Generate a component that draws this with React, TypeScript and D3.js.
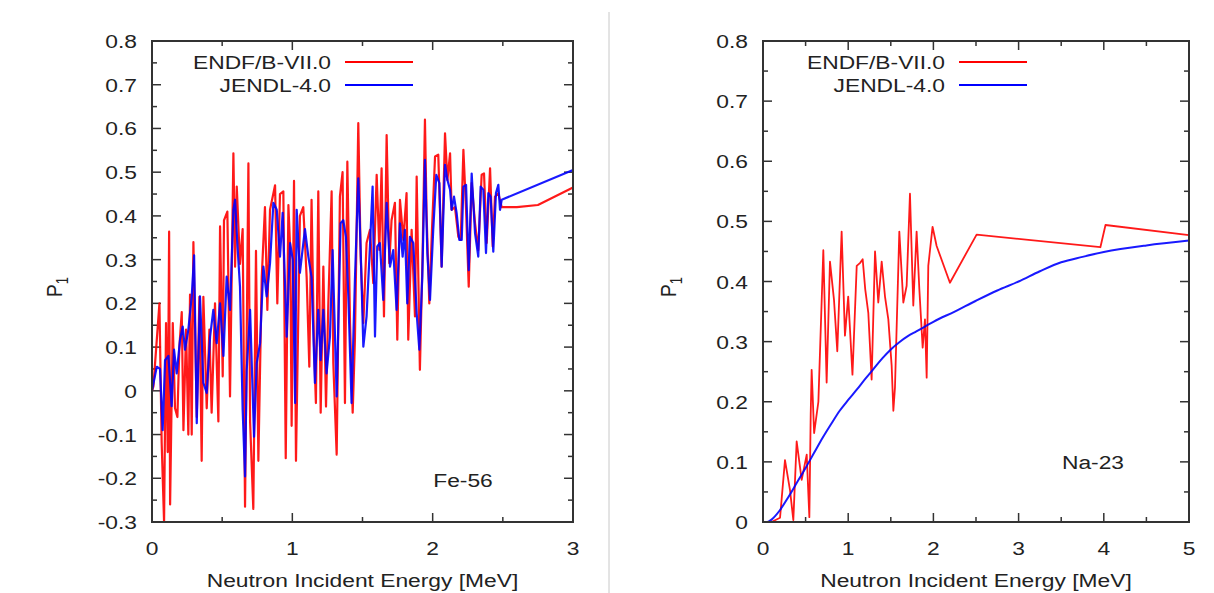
import React, { useEffect, useRef } from 'react';
import * as d3 from 'd3';

type Pt = [number, number];

// Fe-56, P1 vs neutron energy [MeV]
const fe56Endf: Pt[] = [
  [0, 0], [0.01, 0.01], [0.053, 0.2], [0.069, -0.12], [0.086, -0.3], [0.1, 0.155], [0.112, -0.14],
  [0.122, 0.364], [0.129, -0.26], [0.148, 0.155], [0.164, -0.04], [0.181, -0.06], [0.195, 0.1],
  [0.212, 0.18], [0.224, -0.09], [0.243, 0.14], [0.259, -0.1], [0.271, 0.22], [0.283, -0.1],
  [0.295, 0.34], [0.319, -0.06], [0.338, 0.215], [0.354, -0.16], [0.366, 0.215], [0.39, -0.04],
  [0.409, 0.14], [0.425, -0.05], [0.449, 0.2], [0.473, -0.07], [0.485, 0.376], [0.504, 0.033],
  [0.513, 0.39], [0.537, 0.41], [0.556, -0.013], [0.58, 0.543], [0.592, 0.284], [0.604, 0.467],
  [0.627, 0.29], [0.646, 0.37], [0.663, -0.265], [0.687, 0.52], [0.699, -0.07], [0.722, -0.27],
  [0.741, 0.32], [0.758, -0.16], [0.782, 0.26], [0.805, 0.42], [0.822, 0.185], [0.841, 0.414],
  [0.877, 0.47], [0.893, 0.2], [0.912, 0.45], [0.936, 0.456], [0.953, -0.154], [0.972, 0.425],
  [0.985, 0.32], [0.995, -0.08], [1.012, 0.48], [1.026, -0.16], [1.054, 0.4], [1.078, 0.42],
  [1.102, 0.26], [1.121, 0.055], [1.137, 0.437], [1.154, 0.109], [1.168, -0.028], [1.185, 0.456],
  [1.202, -0.05], [1.221, 0.284], [1.24, -0.036], [1.256, 0.193], [1.28, 0.456], [1.292, 0.063],
  [1.316, -0.146], [1.339, 0.444], [1.358, 0.5], [1.375, -0.028], [1.392, 0.524], [1.411, 0.155],
  [1.43, -0.05], [1.446, 0.117], [1.47, 0.612], [1.487, 0.307], [1.506, 0.155], [1.529, 0.338],
  [1.553, 0.368], [1.577, 0.246], [1.601, 0.494], [1.62, 0.322], [1.636, 0.509], [1.653, 0.17],
  [1.672, 0.585], [1.691, 0.292], [1.707, 0.39], [1.731, 0.43], [1.748, 0.117], [1.767, 0.437],
  [1.791, 0.345], [1.814, 0.452], [1.826, 0.117], [1.85, 0.368], [1.874, 0.17], [1.886, 0.49],
  [1.909, 0.048], [1.928, 0.307], [1.945, 0.62], [1.957, 0.4], [1.976, 0.2], [1.995, 0.368],
  [2.017, 0.536], [2.04, 0.54], [2.064, 0.284], [2.088, 0.589], [2.105, 0.482], [2.124, 0.543],
  [2.135, 0.414], [2.159, 0.42], [2.183, 0.352], [2.2, 0.345], [2.219, 0.551], [2.238, 0.414],
  [2.257, 0.238], [2.278, 0.475], [2.302, 0.383], [2.325, 0.322], [2.349, 0.494], [2.366, 0.497],
  [2.385, 0.338], [2.409, 0.509], [2.428, 0.33], [2.444, 0.444], [2.468, 0.452], [2.492, 0.42],
  [2.6, 0.42], [2.75, 0.425], [3.0, 0.465],
];

const fe56Jendl: Pt[] = [
  [0, 0], [0.034, 0.055], [0.057, 0.05], [0.076, -0.09], [0.093, 0.07], [0.117, 0.08],
  [0.14, -0.035], [0.157, 0.094], [0.176, 0.04], [0.2, 0.117], [0.219, 0.147], [0.235, 0.094],
  [0.259, 0.14], [0.283, 0.216], [0.3, 0.31], [0.319, -0.074], [0.342, 0.216], [0.366, 0.018],
  [0.39, -0.005], [0.414, 0.124], [0.437, 0.185], [0.461, 0.109], [0.485, 0.2], [0.509, 0.08],
  [0.532, 0.261], [0.556, 0.185], [0.58, 0.414], [0.592, 0.437], [0.608, 0.338], [0.627, 0.238],
  [0.646, -0.043], [0.663, -0.196], [0.675, 0.048], [0.699, 0.185], [0.727, -0.105], [0.746, 0.063],
  [0.77, 0.109], [0.794, 0.284], [0.817, 0.216], [0.841, 0.292], [0.865, 0.43], [0.889, 0.414],
  [0.912, 0.307], [0.931, 0.407], [0.96, 0.124], [0.984, 0.338], [1.003, 0.3], [1.02, -0.028],
  [1.031, 0.414], [1.054, 0.27], [1.09, 0.37], [1.114, 0.307], [1.137, 0.26], [1.161, 0.018],
  [1.185, 0.185], [1.202, 0.07], [1.221, 0.185], [1.244, 0.04], [1.268, 0.124], [1.287, 0.322],
  [1.316, -0.013], [1.344, 0.383], [1.363, 0.39], [1.382, 0.352], [1.399, 0.216], [1.422, -0.028],
  [1.446, 0.254], [1.47, 0.486], [1.487, 0.322], [1.506, 0.101], [1.529, 0.17], [1.553, 0.33],
  [1.572, 0.467], [1.589, 0.124], [1.605, 0.33], [1.624, 0.338], [1.648, 0.208], [1.672, 0.43],
  [1.696, 0.284], [1.719, 0.322], [1.743, 0.185], [1.767, 0.383], [1.786, 0.307], [1.802, 0.368],
  [1.819, 0.2], [1.838, 0.352], [1.862, 0.338], [1.886, 0.177], [1.905, 0.094], [1.926, 0.26],
  [1.945, 0.528], [1.962, 0.315], [1.981, 0.208], [2.004, 0.368], [2.026, 0.494], [2.048, 0.475],
  [2.064, 0.284], [2.088, 0.517], [2.105, 0.482], [2.124, 0.46], [2.135, 0.414], [2.152, 0.444],
  [2.171, 0.406], [2.19, 0.345], [2.207, 0.345], [2.219, 0.467], [2.238, 0.471], [2.257, 0.276],
  [2.278, 0.497], [2.302, 0.36], [2.325, 0.307], [2.342, 0.467], [2.361, 0.46], [2.38, 0.315],
  [2.397, 0.452], [2.413, 0.444], [2.432, 0.318], [2.451, 0.452], [2.468, 0.471], [2.48, 0.414],
  [2.492, 0.437], [3.0, 0.505],
];

// Na-23
const na23Endf: Pt[] = [
  [0, 0], [0.1, 0.0], [0.2, 0.007], [0.258, 0.103], [0.317, 0.053], [0.356, 0.003], [0.395, 0.134],
  [0.454, 0.07], [0.513, 0.112], [0.544, 0.008], [0.56, 0.18], [0.571, 0.253], [0.6, 0.148],
  [0.65, 0.2], [0.708, 0.452], [0.747, 0.232], [0.786, 0.433], [0.833, 0.37], [0.872, 0.284],
  [0.923, 0.483], [0.962, 0.31], [1.0, 0.375], [1.05, 0.245], [1.1, 0.426], [1.14, 0.431],
  [1.17, 0.437], [1.2, 0.387], [1.236, 0.348], [1.275, 0.237], [1.315, 0.45], [1.353, 0.365],
  [1.393, 0.433], [1.432, 0.375], [1.471, 0.337], [1.51, 0.26], [1.53, 0.185], [1.549, 0.224],
  [1.6, 0.483], [1.647, 0.365], [1.686, 0.393], [1.725, 0.546], [1.764, 0.36], [1.803, 0.483],
  [1.835, 0.387], [1.874, 0.29], [1.901, 0.337], [1.921, 0.24], [1.94, 0.426], [1.99, 0.491],
  [2.038, 0.459], [2.194, 0.398], [2.507, 0.478], [3.96, 0.457], [4.02, 0.494], [5.0, 0.477],
];

const na23Jendl: Pt[] = [
  [0, 0], [0.05, 0.0], [0.1, 0.004], [0.2, 0.02], [0.3, 0.042], [0.4, 0.066], [0.5, 0.09],
  [0.6, 0.115], [0.7, 0.14], [0.8, 0.163], [0.9, 0.185], [1.0, 0.203], [1.1, 0.22], [1.2, 0.238],
  [1.3, 0.255], [1.4, 0.272], [1.5, 0.287], [1.6, 0.299], [1.7, 0.309], [1.8, 0.317], [1.9, 0.325],
  [2.0, 0.333], [2.25, 0.35], [2.5, 0.368], [2.75, 0.385], [3.0, 0.4], [3.25, 0.417], [3.5, 0.432],
  [3.75, 0.441], [4.0, 0.449], [4.5, 0.46], [5.0, 0.468],
];

const seriesNames = ['ENDF/B-VII.0', 'JENDL-4.0'];
const seriesColors = ['#ff0000', '#0000ff'];

const fe56YTicks = [-0.3, -0.2, -0.1, 0, 0.1, 0.2, 0.3, 0.4, 0.5, 0.6, 0.7, 0.8];
const fe56XTicks = [0, 1, 2, 3];
const na23YTicks = [0, 0.1, 0.2, 0.3, 0.4, 0.5, 0.6, 0.7, 0.8];
const na23XTicks = [0, 1, 2, 3, 4, 5];

const FONT = '"Liberation Sans", Arial, sans-serif';
const SX = 1.2; // the original is stretched horizontally

const App = () => {
  const ref = useRef<SVGSVGElement>(null);

  useEffect(() => {
    const svg = d3.select(ref.current);
    svg.selectAll('*').remove();

    const label = (g: any, x: number, y: number, text: string, anchor: string) =>
      g.append('text')
        .attr('transform', `translate(${x},${y}) scale(${SX},1)`)
        .attr('text-anchor', anchor)
        .attr('font-family', FONT)
        .attr('font-size', 19)
        .attr('fill', '#222')
        .text(text);

    const drawPanel = (cfg: any) => {
      const { left, right, top, bottom, xTicks, yTicks, series, tag, tagX, tagY, legendX } = cfg;
      const g = svg.append('g');
      const x = d3.scaleLinear().domain([xTicks[0], xTicks[xTicks.length - 1]]).range([left, right]);
      const y = d3.scaleLinear().domain([yTicks[0], yTicks[yTicks.length - 1]]).range([bottom, top]);

      const xMinor = d3.range(xTicks[0], xTicks[xTicks.length - 1] + 0.001, 0.5);
      const yMinor = d3.range(0, Math.round((yTicks[yTicks.length - 1] - yTicks[0]) / 0.05) + 1)
        .map(i => yTicks[0] + i * 0.05);

      const tickColor = '#333';
      // minor + major ticks on all four sides, pointing inward
      xMinor.forEach(v => {
        const major = xTicks.some((t: number) => Math.abs(t - v) < 1e-6);
        const len = major ? 9 : 5;
        g.append('line').attr('x1', x(v)).attr('x2', x(v)).attr('y1', bottom).attr('y2', bottom - len)
          .attr('stroke', tickColor).attr('stroke-width', 1.5);
        g.append('line').attr('x1', x(v)).attr('x2', x(v)).attr('y1', top).attr('y2', top + len)
          .attr('stroke', tickColor).attr('stroke-width', 1.5);
      });
      yMinor.forEach(v => {
        const major = yTicks.some((t: number) => Math.abs(t - v) < 1e-6);
        const len = major ? 9 : 5;
        g.append('line').attr('x1', left).attr('x2', left + len).attr('y1', y(v)).attr('y2', y(v))
          .attr('stroke', tickColor).attr('stroke-width', 1.5);
        g.append('line').attr('x1', right).attr('x2', right - len).attr('y1', y(v)).attr('y2', y(v))
          .attr('stroke', tickColor).attr('stroke-width', 1.5);
      });

      yTicks.forEach((v: number) => label(g, left - 15, y(v) + 7, v === 0 ? '0' : v.toFixed(1), 'end'));
      xTicks.forEach((v: number) => label(g, x(v), 555, String(v), 'middle'));
      label(g, (left + right) / 2, 587, 'Neutron Incident Energy [MeV]', 'middle');

      series.forEach((s: Pt[], i: number) => {
        const line = d3.line<Pt>().x(d => x(d[0])).y(d => y(d[1]))
          .curve(cfg.smooth[i] ? d3.curveMonotoneX : d3.curveLinear);
        g.append('path').datum(s).attr('d', line).attr('fill', 'none')
          .attr('stroke', seriesColors[i]).attr('stroke-width', cfg.lineWidth[i])
          .attr('stroke-linejoin', 'round').attr('stroke-opacity', 0.9);
      });

      g.append('rect').attr('x', left).attr('y', top).attr('width', right - left).attr('height', bottom - top)
        .attr('fill', 'none').attr('stroke', '#333').attr('stroke-width', 2);

      seriesNames.forEach((name, i) => {
        const ly = 62 + i * 23;
        label(g, legendX - 14, ly + 7, name, 'end');
        g.append('line').attr('x1', legendX).attr('x2', legendX + 68).attr('y1', ly).attr('y2', ly)
          .attr('stroke', seriesColors[i]).attr('stroke-width', 2);
      });

      label(g, tagX, tagY, tag, 'middle');

      // P1 axis title
      const t = g.append('text')
        .attr('transform', `translate(${cfg.pX},${cfg.pY}) scale(${SX},1) rotate(-90)`)
        .attr('text-anchor', 'middle').attr('font-family', FONT).attr('font-size', 19).attr('fill', '#222');
      t.append('tspan').text('P');
      t.append('tspan').attr('font-size', 13).attr('dy', 5).text('1');
    };

    drawPanel({
      left: 152, right: 573, top: 41, bottom: 522,
      xTicks: fe56XTicks, yTicks: fe56YTicks,
      series: [fe56Endf, fe56Jendl], lineWidth: [2.2, 2.2], smooth: [false, false],
      tag: 'Fe-56', tagX: 463, tagY: 487, legendX: 345, pX: 62, pY: 287,
    });
    drawPanel({
      left: 763, right: 1189, top: 41, bottom: 522,
      xTicks: na23XTicks, yTicks: na23YTicks,
      series: [na23Endf, na23Jendl], lineWidth: [1.8, 2], smooth: [false, true],
      tag: 'Na-23', tagX: 1093, tagY: 469, legendX: 959, pX: 676, pY: 287,
    });

    svg.append('line').attr('x1', 609).attr('x2', 609).attr('y1', 12).attr('y2', 593)
      .attr('stroke', '#c8c8c8').attr('stroke-width', 1);
  }, []);

  return (
    <div style={{ position: 'absolute', left: 0, top: 0 }}>
      <svg ref={ref} width={1214} height={593} style={{ display: 'block', background: '#fff' }} />
    </div>
  );
};

export default App;
